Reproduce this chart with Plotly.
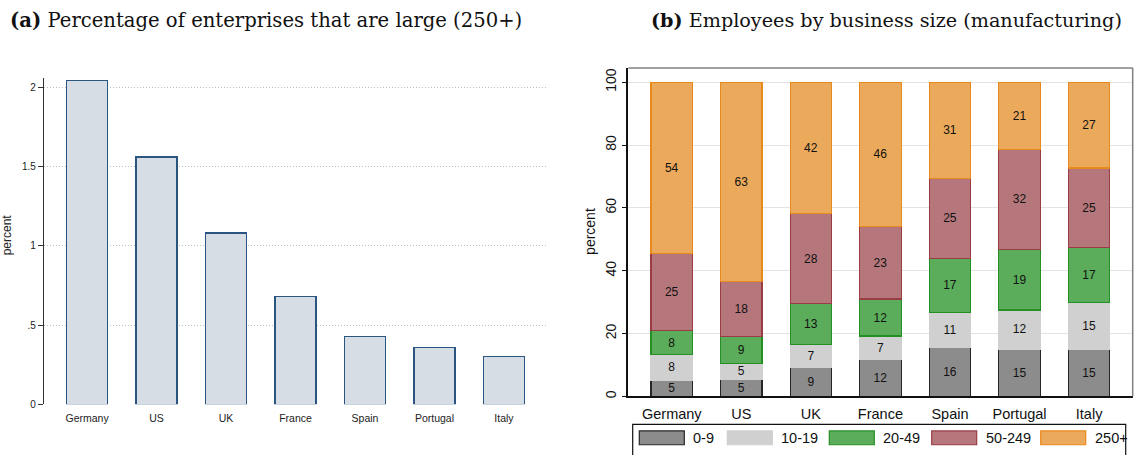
import plotly.graph_objects as go

# ---------------- data ----------------
countries = ["Germany", "US", "UK", "France", "Spain", "Portugal", "Italy"]

# (a) percentage of enterprises that are large (250+)
large_pct = [2.04, 1.56, 1.08, 0.68, 0.43, 0.36, 0.30]

# (b) employees by business size, manufacturing (shares, %)
size_classes = ["0-9", "10-19", "20-49", "50-249", "250+"]
emp_0_9 = [5.2, 5.5, 9.2, 11.7, 15.6, 15.1, 15.0]
emp_10_19 = [8.1, 5.0, 7.3, 7.5, 11.1, 12.4, 14.8]
emp_20_49 = [7.6, 8.6, 13.1, 11.8, 17.3, 19.3, 17.5]
emp_50_249 = [24.6, 17.6, 28.5, 23.1, 25.3, 31.8, 25.4]
emp_250p = [54.5, 63.3, 41.9, 45.9, 30.7, 21.4, 27.3]

lab_0_9 = ["5", "5", "9", "12", "16", "15", "15"]
lab_10_19 = ["8", "5", "7", "7", "11", "12", "15"]
lab_20_49 = ["8", "9", "13", "12", "17", "19", "17"]
lab_50_249 = ["25", "18", "28", "23", "25", "32", "25"]
lab_250p = ["54", "63", "42", "46", "31", "21", "27"]

left_ticks = [0, 0.5, 1, 1.5, 2]
left_ticktext = ["0", ".5", "1", "1.5", "2"]
right_ticks = [0, 20, 40, 60, 80, 100]

# ---------------- styles ----------------
W, H = 1137, 455
SANS = "Liberation Sans, Arial, sans-serif"
SERIF = "DejaVu Serif, Liberation Serif, serif"

fills = ["#8c8c8c", "#d0d0d0", "#5bad5b", "#b5777b", "#eba95b"]
lines = ["#262626", "#d0d0d0", "#249024", "#9a3c44", "#e8891c"]

fig = go.Figure()

fig.add_trace(go.Bar(
    x=countries, y=large_pct, xaxis="x", yaxis="y",
    width=0.59,
    marker=dict(color="#d6dde5", line=dict(color="#2a5580", width=1.2)),
    showlegend=False, hoverinfo="x+y",
))

series = [emp_0_9, emp_10_19, emp_20_49, emp_50_249, emp_250p]
labels = [lab_0_9, lab_10_19, lab_20_49, lab_50_249, lab_250p]
for name, vals, labs, fc, lc in zip(size_classes, series, labels, fills, lines):
    fig.add_trace(go.Bar(
        x=countries, y=vals, xaxis="x2", yaxis="y2", name=name,
        width=0.597, text=labs, textposition="inside",
        insidetextanchor="middle", textangle=0,
        textfont=dict(family=SANS, size=12, color="#111111"),
        marker=dict(color=fc, line=dict(color=lc, width=1.2)),
        showlegend=False,
    ))

def px_x(p):
    return p / W

def px_y(p):
    return 1 - p / H

fig.update_layout(
    width=W, height=H,
    margin=dict(l=0, r=0, t=0, b=0),
    paper_bgcolor="white", plot_bgcolor="white",
    barmode="stack", bargap=0.4,
    uniformtext=dict(minsize=12, mode="show"),
    xaxis=dict(
        domain=[px_x(44), px_x(547)], range=[-0.62, 6.62],
        showline=False, showgrid=False, zeroline=False,
        ticks="outside", ticklen=4, tickcolor="rgba(0,0,0,0)",
        tickfont=dict(family=SANS, size=10.5, color="#222"),
        anchor="y",
    ),
    yaxis=dict(
        domain=[px_y(409.7), px_y(78.7)], range=[0, 2.06],
        tickvals=left_ticks, ticktext=left_ticktext,
        showline=True, linecolor="#333", linewidth=1.2,
        ticks="outside", ticklen=5, tickcolor="#333", tickwidth=1,
        showgrid=True, gridcolor="#bdbdbd", griddash="1px,2px", gridwidth=1,
        zeroline=False,
        tickfont=dict(family=SANS, size=10, color="#222"),
        anchor="x",
    ),
    xaxis2=dict(
        domain=[px_x(628.3), px_x(1132.7)], range=[-0.625, 6.627],
        showline=True, linecolor="#111", linewidth=1.5,
        showgrid=False, zeroline=False,
        ticks="outside", ticklen=3, tickcolor="rgba(0,0,0,0)",
        tickfont=dict(family=SANS, size=14.5, color="#111"),
        anchor="y2",
    ),
    yaxis2=dict(
        domain=[px_y(401.7), px_y(69)], range=[0, 104.5],
        tickvals=right_ticks, tickangle=-90,
        showline=True, linecolor="#111", linewidth=1.5,
        ticks="outside", ticklen=5, tickcolor="#111", tickwidth=1.2,
        showgrid=True, gridcolor="#e3e3e3", gridwidth=1.3,
        zeroline=False,
        tickfont=dict(family=SANS, size=14, color="#111"),
        anchor="x2",
    ),
)

# frame (top and right) of panel (b)
fig.add_shape(type="line", xref="x2 domain", yref="y2 domain",
              x0=0, x1=1, y0=1, y1=1, line=dict(color="#808080", width=1.5))
fig.add_shape(type="line", xref="x2 domain", yref="y2 domain",
              x0=1, x1=1, y0=0, y1=1, line=dict(color="#808080", width=1.5))

# titles
fig.add_annotation(xref="paper", yref="paper", x=px_x(8), y=px_y(21),
                   xanchor="left", yanchor="middle", showarrow=False,
                   text="<b>(a)</b> Percentage of enterprises that are large (250+)",
                   font=dict(family=SERIF, size=19.6, color="#111"))
fig.add_annotation(xref="paper", yref="paper", x=px_x(649), y=px_y(21),
                   xanchor="left", yanchor="middle", showarrow=False,
                   text="<b>(b)</b> Employees by business size (manufacturing)",
                   font=dict(family=SERIF, size=19.2, color="#111"))

# axis titles
fig.add_annotation(xref="paper", yref="paper", x=px_x(7), y=px_y(238.5),
                   xanchor="center", yanchor="middle", showarrow=False,
                   textangle=-90, text="percent",
                   font=dict(family=SANS, size=12, color="#222"))
fig.add_annotation(xref="paper", yref="paper", x=px_x(590), y=px_y(235),
                   xanchor="center", yanchor="middle", showarrow=False,
                   textangle=-90, text="percent",
                   font=dict(family=SANS, size=14, color="#111"))

# legend for panel (b)
fig.add_shape(type="rect", xref="paper", yref="paper",
              x0=px_x(632.7), x1=px_x(1125.7), y0=px_y(470), y1=px_y(430),
              line=dict(color="#111", width=1.2), fillcolor="white", layer="below")
sw_left = [639.3, 727.3, 829.3, 931.7, 1040.7]
for name, fc, lc, xl in zip(size_classes, fills, lines, sw_left):
    fig.add_shape(type="rect", xref="paper", yref="paper",
                  x0=px_x(xl), x1=px_x(xl + 45), y0=px_y(450.7), y1=px_y(436.7),
                  line=dict(color=lc, width=1.2), fillcolor=fc)
    fig.add_annotation(xref="paper", yref="paper", x=px_x(xl + 52), y=px_y(444),
                       xanchor="left", yanchor="middle", showarrow=False,
                       text=name, font=dict(family=SANS, size=14.5, color="#111"))

fig.write_html(
    "out.html",
    config={"displayModeBar": False},
    post_script="document.body.style.margin='0';document.body.style.overflow='hidden';",
)
